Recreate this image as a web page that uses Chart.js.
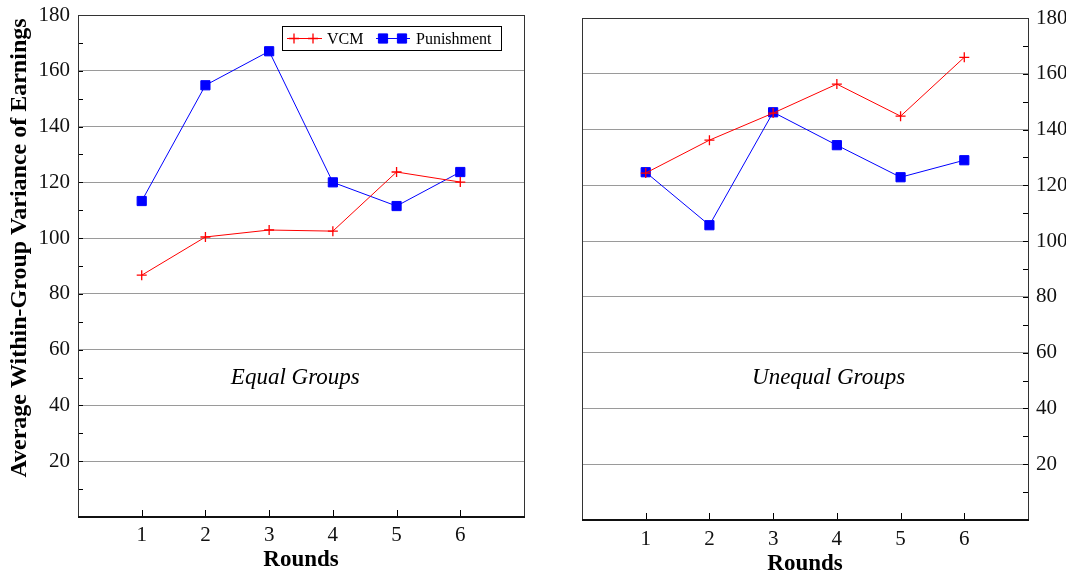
<!DOCTYPE html>
<html>
<head>
<meta charset="utf-8">
<script src="https://cdn.jsdelivr.net/npm/chart.js@4.4.0/dist/chart.umd.min.js"></script>
<style>
html, body { margin:0; padding:0; background:#fff; overflow:hidden; width:1071px; height:574px; }
#left { position:absolute; left:0; top:0; }
#right { position:absolute; left:545px; top:0; }
</style>
</head>
<body>
<canvas id="left" width="545" height="574"></canvas>
<canvas id="right" width="521" height="574"></canvas>
<script>
// values
var rounds = [1, 2, 3, 4, 5, 6];
var vcmEqual = [86.7, 100.4, 102.9, 102.5, 123.7, 120.1];
var punEqual = [113.3, 154.8, 167.0, 120.0, 111.5, 123.7];
var vcmUnequal = [124.4, 136.2, 145.9, 156.3, 144.8, 165.9];
var punUnequal = [124.7, 105.7, 146.2, 134.4, 122.9, 129.0];
var yTicks = [20, 40, 60, 80, 100, 120, 140, 160, 180];
var minorTicks = [10, 30, 50, 70, 90, 110, 130, 150, 170];

var SERIF = '"Liberation Serif", "Times New Roman", serif';

function pts(ys) {
  return rounds.map(function(r, i) { return { x: r, y: ys[i] }; });
}

// frame, inner ticks, panel label and the boxed legend
var framePlugin = {
  id: 'frame',
  afterDraw: function(chart, args, opts) {
    var ctx = chart.ctx, a = chart.chartArea;
    var xs = chart.scales.x, ys = chart.scales.y;
    ctx.save();
    ctx.strokeStyle = '#000';
    ctx.lineWidth = 1;
    minorTicks.concat(yTicks).forEach(function(v) {
      var py = Math.round(ys.getPixelForValue(v)) + 0.5;
      ctx.beginPath();
      if (opts.side === 'left') { ctx.moveTo(a.left, py); ctx.lineTo(a.left + 5, py); }
      else { ctx.moveTo(a.right, py); ctx.lineTo(a.right - 5, py); }
      ctx.stroke();
    });
    rounds.forEach(function(r) {
      var px = Math.round(xs.getPixelForValue(r)) + 0.5;
      ctx.beginPath();
      ctx.moveTo(px, a.bottom);
      ctx.lineTo(px, a.bottom - 7);
      ctx.stroke();
    });
    ctx.strokeStyle = '#333';
    ctx.strokeRect(Math.round(a.left) + 0.5, Math.round(a.top) + 0.5, Math.round(a.right - a.left), Math.round(a.bottom - a.top));
    ctx.lineWidth = 2;
    ctx.strokeStyle = '#111';
    ctx.beginPath();
    ctx.moveTo(a.left, a.bottom);
    ctx.lineTo(a.right + 1, a.bottom);
    ctx.stroke();

    ctx.fillStyle = '#000';
    ctx.font = 'italic 23px ' + SERIF;
    ctx.textAlign = 'center';
    ctx.textBaseline = 'middle';
    ctx.fillText(opts.label, xs.getPixelForValue(opts.labelX), ys.getPixelForValue(opts.labelY));

    if (opts.yTitle) {
      ctx.save();
      ctx.translate(20, 248);
      ctx.rotate(-Math.PI / 2);
      ctx.font = 'bold 24px ' + SERIF;
      ctx.fillText(opts.yTitle, 0, 0);
      ctx.restore();
    }

    if (opts.legend) {
      var bx = 282, by = 26, bw = 219, bh = 24;
      ctx.fillStyle = '#fff';
      ctx.fillRect(bx, by, bw, bh);
      ctx.lineWidth = 1;
      ctx.strokeStyle = '#000';
      ctx.strokeRect(bx + 0.5, by + 0.5, bw, bh);
      var cy = by + bh / 2 + 0.5;
      var ds = chart.data.datasets;
      var items = [{ x0: 287, x1: 322, m: [294, 313], tx: 327 }, { x0: 376, x1: 410, m: [383, 402], tx: 416 }];
      items.forEach(function(it, k) {
        var d = ds[k];
        ctx.strokeStyle = d.borderColor;
        ctx.lineWidth = 1;
        ctx.beginPath();
        ctx.moveTo(it.x0, cy);
        ctx.lineTo(it.x1, cy);
        ctx.stroke();
        it.m.forEach(function(mx) {
          ctx.fillStyle = d.backgroundColor;
          ctx.strokeStyle = d.borderColor;
          ctx.lineWidth = d.pointBorderWidth;
          Chart.helpers.drawPoint(ctx, { pointStyle: d.pointStyle, radius: d.pointRadius, borderWidth: d.pointBorderWidth }, mx, cy);
        });
        ctx.fillStyle = '#000';
        ctx.font = '16px ' + SERIF;
        ctx.textAlign = 'left';
        ctx.fillText(d.label, it.tx, cy + 1);
      });
    }
    ctx.restore();
  }
};

function makeChart(id, vcm, pun, cfg) {
  return new Chart(document.getElementById(id), {
    type: 'line',
    data: {
      datasets: [
        {
          label: 'VCM', data: pts(vcm),
          borderColor: '#ff0000', backgroundColor: '#ff0000', borderWidth: 1,
          pointStyle: 'cross', pointRadius: 5, pointBorderWidth: 1.3, tension: 0
        },
        {
          label: 'Punishment', data: pts(pun),
          borderColor: '#0000ff', backgroundColor: '#0000ff', borderWidth: 1,
          pointStyle: 'rect', pointRadius: 6.5, pointBorderWidth: 1, tension: 0
        }
      ]
    },
    options: {
      responsive: false,
      animation: false,
      layout: { padding: cfg.padding },
      plugins: {
        legend: { display: false },
        tooltip: { enabled: false },
        frame: cfg.frame
      },
      scales: {
        x: {
          type: 'linear', min: 0, max: 7,
          afterBuildTicks: function(s) { s.ticks = rounds.map(function(v) { return { value: v }; }); },
          grid: { display: false, drawTicks: false },
          border: { display: false },
          ticks: { color: '#111', padding: cfg.xPad, font: { family: SERIF, size: 21 } },
          title: { display: true, text: 'Rounds', color: '#000', padding: { top: 0, bottom: cfg.titlePad }, font: { family: SERIF, size: 23, weight: 'bold' } },
          afterFit: function(s) { s.height = cfg.xHeight; s.paddingLeft = 0; s.paddingRight = 0; }
        },
        y: {
          position: cfg.frame.side, min: 0, max: 180,
          afterBuildTicks: function(s) { s.ticks = yTicks.map(function(v) { return { value: v }; }); },
          grid: { color: '#9a9a9a', lineWidth: 1, drawTicks: false },
          border: { display: false },
          ticks: { color: '#111', padding: 8, font: { family: SERIF, size: 21 } },
          afterFit: function(s) { s.width = cfg.yWidth; s.paddingTop = 0; s.paddingBottom = 0; }
        }
      }
    },
    plugins: [framePlugin]
  });
}

makeChart('left', vcmEqual, punEqual, {
  padding: { left: 0, right: 21, top: 15, bottom: 0 },
  yWidth: 78, xHeight: 57, xPad: 6, titlePad: 0,
  frame: { side: 'left', label: 'Equal Groups', labelX: 3.41, labelY: 50, legend: true,
           yTitle: 'Average Within-Group Variance of Earnings' }
});

makeChart('right', vcmUnequal, punUnequal, {
  padding: { left: 37, right: 0, top: 18, bottom: 0 },
  yWidth: 38, xHeight: 54, xPad: 7, titlePad: -4,
  frame: { side: 'right', label: 'Unequal Groups', labelX: 3.87, labelY: 51, legend: false }
});
</script>
</body>
</html>
